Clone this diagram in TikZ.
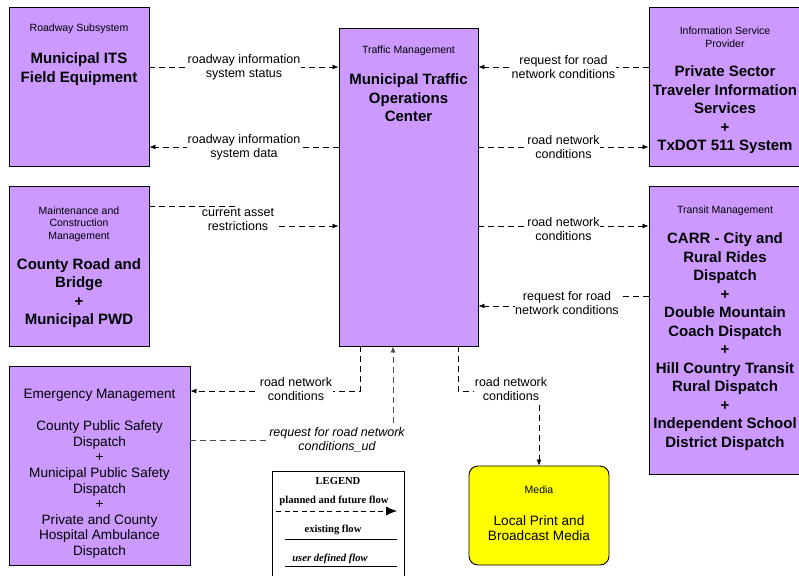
\documentclass[tikz,border=0pt]{standalone}
\usepackage{fontspec}
\setmainfont{Liberation Sans}
\newfontfamily\legendfont{Liberation Serif}
\usetikzlibrary{arrows.meta}
\definecolor{lila}{RGB}{204,153,255}
\definecolor{gelb}{RGB}{255,255,0}
\tikzset{
  sys/.style={draw, fill=lila, line width=0.9pt, inner sep=0pt},
  kopf/.style={font=\fontsize{10.5}{12.5}\selectfont, align=center},
  titel/.style={font=\bfseries\fontsize{15}{18.5}\selectfont, align=center},
  text13/.style={font=\fontsize{13.6}{15.6}\selectfont, align=center},
  fluss/.style={line width=0.8pt, dash pattern=on 6pt off 4pt, -{Latex[length=6pt,width=5pt]}},
  lbl/.style={font=\fontsize{12.5}{14}\selectfont, align=center, fill=white, inner sep=0.5pt},
  leg/.style={font=\legendfont\bfseries\fontsize{10.6}{12}\selectfont}
}
\begin{document}
\begin{tikzpicture}[x=1pt, y=-1pt]
\useasboundingbox (0,0) rectangle (799,575);
\clip (0,0) rectangle (799,575);
%%Kaesten links
\node[sys, minimum width=140pt, minimum height=159pt] (its) at (79,86.5) {};
\node[kopf] (its-kopf) at (79,29) {Roadway Subsystem};
\node[titel] (its-titel) at (79,69) {Municipal ITS\\Field Equipment};
\node[sys, minimum width=140pt, minimum height=160pt] (maint) at (79,266) {};
\node[kopf] (maint-kopf) at (79,224) {Maintenance and\\Construction\\Management};
\node[titel] (maint-titel) at (79,293) {County Road and\\Bridge\\+\\Municipal PWD};
\node[sys, minimum width=181pt, minimum height=199pt] (emerg) at (99.5,465.5) {};
\node[text13] (emerg-kopf) at (99.5,395) {Emergency Management};
\node[text13] (emerg-text) at (99.5,489.5) {County Public Safety\\Dispatch\\+\\Municipal Public Safety\\Dispatch\\+\\Private and County\\Hospital Ambulance\\Dispatch};
%%Mitte
\node[sys, minimum width=139pt, minimum height=318pt] (tmc) at (408.5,187) {};
\node[kopf] (tmc-kopf) at (408.5,51) {Traffic Management};
\node[titel] (tmc-titel) at (408.5,98) {Municipal Traffic\\Operations\\Center};
\node[draw, fill=gelb, rounded corners=9pt, line width=0.9pt, minimum width=140pt, minimum height=99pt] (media) at (539,515.5) {};
\node[kopf] (media-kopf) at (539,490) {Media};
\node[text13] (media-text) at (539,528) {Local Print and\\Broadcast Media};
%%Kaesten rechts
\node[sys, minimum width=152pt, minimum height=159pt] (isp) at (725,86.5) {};
\node[kopf] (isp-kopf) at (725,37) {Information Service\\Provider};
\node[titel] (isp-titel) at (725,110) {Private Sector\\Traveler Information\\Services\\+\\TxDOT 511 System};
\node[sys, minimum width=152pt, minimum height=288pt] (transit) at (725,330) {};
\node[kopf] (transit-kopf) at (725,211) {Transit Management};
\node[titel] (transit-titel) at (725,341.5) {CARR - City and\\Rural Rides\\Dispatch\\+\\Double Mountain\\Coach Dispatch\\+\\Hill Country Transit\\Rural Dispatch\\+\\Independent School\\District Dispatch};
%%Fluesse
\draw[fluss] (its.east |- 0,67) -- (tmc.west |- 0,67) node[lbl, midway] {roadway information\\system status};
\draw[fluss] (tmc.west |- 0,147) -- (its.east |- 0,147) node[lbl, midway] {roadway information\\system data};
\draw[fluss] (maint.east |- 0,206) -- ++(88,0) |- (tmc.west |- 0,226) node[lbl] at (238,220) {current asset\\restrictions};
\draw[fluss] (isp.west |- 0,67) -- (tmc.east |- 0,67) node[lbl, midway] {request for road\\network conditions};
\draw[fluss] (tmc.east |- 0,147) -- (isp.west |- 0,147) node[lbl, midway] {road network\\conditions};
\draw[fluss] (tmc.east |- 0,226) -- (transit.west |- 0,226) node[lbl, midway, yshift=-3pt] {road network\\conditions};
\draw[fluss] (transit.west |- 0,296) -- ++(-49,0) |- (tmc.east |- 0,306) node[lbl] at (567,303) {request for road\\network conditions};
\draw[fluss] (tmc.south -| 360,0) |- (emerg.east |- 0,391) node[lbl] at (296,389) {road network\\conditions};
\draw[fluss, draw=black!70] (emerg.east |- 0,440) -| (tmc.south -| 393,0) node[lbl, font=\itshape\fontsize{12.5}{14}\selectfont] at (337,440) {request for road network\\conditions\_ud};
\draw[fluss] (tmc.south -| 458,0) -- ++(0,45) -| (media.north) node[lbl] at (511,389) {road network\\conditions};
%%Legende
\node[draw, line width=1pt, minimum width=132pt, minimum height=140pt, anchor=north west] (legende) at (272,471) {};
\node[leg] (leg-titel) at (338,481) {LEGEND};
\node[leg] (leg-plan) at (334,501) {planned and future flow};
\node[leg] (leg-exist) at (333,530) {existing flow};
\node[leg, font=\legendfont\bfseries\itshape\fontsize{10.6}{12}\selectfont] (leg-user) at (330,559) {user defined flow};
\coordinate (p1) at (276,511);
\coordinate (p2) at (397,511);
\coordinate (e1) at (285,539);
\coordinate (e2) at (397,539);
\coordinate (u1) at (285,566);
\coordinate (u2) at (397,566);
\draw[line width=0.8pt, dash pattern=on 5pt off 3.5pt, -{Latex[length=11pt,width=9pt]}] (p1) -- (p2);
\draw[line width=0.8pt] (e1) -- (e2);
\draw[line width=0.8pt] (u1) -- (u2);
\end{tikzpicture}
\end{document}
